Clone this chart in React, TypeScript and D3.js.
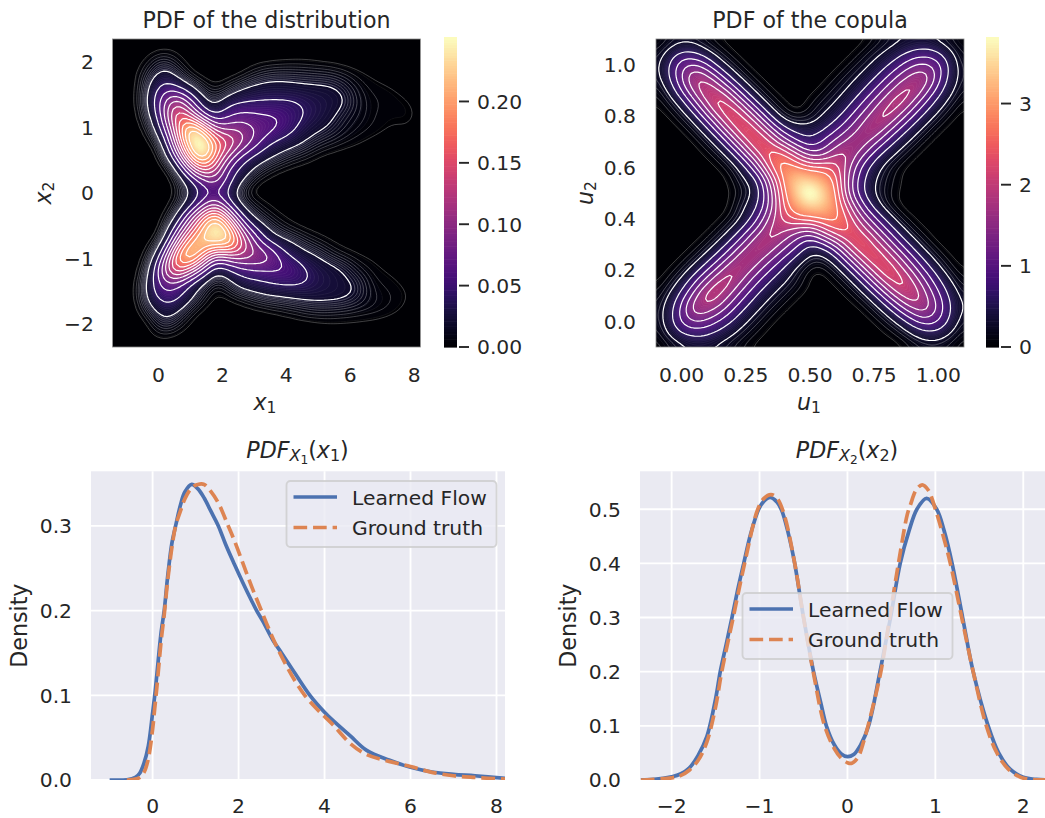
import React from 'react';
import * as d3 from 'd3';

// density of the distribution, thousandths (25 x 25, top row first)
const distRows = [
  [0,0,0,0,0,0,0,0,0,0,0,0,0,0,0,0,0,0,0,0,0,0,0,0,0],
  [0,0,0,.5,2,1,0,0,0,0,0,0,0,0,0,0,0,0,0,0,0,0,0,0,0],
  [0,0,.2,6,16,6,.5,0,0,0,0,.8,1.9,2.4,3,3,2.2,1.5,.8,.2,0,0,0,0,0],
  [0,0,1.5,15,32,20,5,1,0,.5,2,9,14,16,15,14,13,12,8,4,2,1,.4,0,0],
  [0,0,.8,24,58,50,30,10,3,9,21,27,30,30,28,26,25,24,18,8,4,3,2,.8,0],
  [0,0,1,28,78,130,75,30,14,35,40,42,43,43,44,38,32,27,22,10,5,4,3,2.5,.5],
  [0,0,.6,18,70,170,135,65,37,58,68,66,62,61,48,40,31,23,13,8,5,3,2.5,3,1],
  [0,0,.1,8,50,140,255,190,100,95,98,80,72,58,45,30,23,17,10,6,4,2.5,1.5,1.8,.3],
  [0,0,0,1.5,20,115,235,275,180,150,112,78,47,35,28,19,11,7,4,2.5,1,.3,0,0,0],
  [0,0,0,.2,7,65,190,265,175,110,60,40,28,18,10,6,2,.8,.2,0,0,0,0,0,0],
  [0,0,0,0,.5,16,90,175,130,60,38,21,8,3,1,.3,0,0,0,0,0,0,0,0,0],
  [0,0,0,0,0,4,30,65,95,50,23,4,1,.2,0,0,0,0,0,0,0,0,0,0,0],
  [0,0,0,0,0,1.5,19,46,60,32,6,.5,0,0,0,0,0,0,0,0,0,0,0,0,0],
  [0,0,0,0,0,6,30,68,110,55,20,7,2.5,.5,0,0,0,0,0,0,0,0,0,0,0],
  [0,0,0,0,1.5,20,85,160,240,135,50,19,8,3,1,.2,0,0,0,0,0,0,0,0,0],
  [0,0,0,0,3,60,140,212,262,232,110,55,24,11,5,2,1,.3,0,0,0,0,0,0,0],
  [0,0,0,1,22,110,210,232,208,225,155,90,50,32,23,12,6,2.5,1,.3,0,0,0,0,0],
  [0,0,0,8,60,185,242,160,75,95,110,105,100,60,38,28,21,10,5,2.5,1.5,.5,0,0,0],
  [0,0,0,19,100,175,120,65,22,35,50,56,58,64,60,42,32,27,20,8,4,2,.8,0,0],
  [0,0,.2,30,75,70,40,20,5,12,30,35,40,43,44,42,33,27,23,19,6,4,2.5,.8,0],
  [0,0,1,30,55,50,28,9,1,2.5,6,12,18,20,23,25,26,26,24,18,8,5,4,2,.3],
  [0,0,.2,15,32,25,8,1.5,0,0,.3,.8,2,4,6,9,11,10,9,7,6,5,3,1,0],
  [0,0,0,2,19,10,1.5,0,0,0,0,0,0,0,.3,.7,1.2,2,1.8,1.7,1.2,.6,0,0,0],
  [0,0,0,1,3,.8,0,0,0,0,0,0,0,0,0,0,0,0,0,0,0,0,0,0,0],
  [0,0,0,0,0,0,0,0,0,0,0,0,0,0,0,0,0,0,0,0,0,0,0,0,0],
];

// density of the copula (25 x 25, top row first)
const copulaRows = [
  [.03,.12,.18,.14,.07,.02,0,0,0,0,0,0,0,0,0,0,0,.05,.17,.25,.28,.29,.2,.11,.05],
  [.12,.35,.58,.58,.3,.11,.02,0,0,0,0,0,0,0,0,0,.06,.2,.33,.46,.63,.71,.58,.3,.09],
  [.18,.58,1.15,1.2,.92,.4,.13,.02,0,0,0,0,0,0,0,.06,.2,.36,.53,.83,1.16,1.26,1.05,.47,.13],
  [.14,.58,1.2,2,1.6,1.07,.45,.14,.02,0,0,0,0,0,.06,.2,.36,.54,.89,1.33,1.67,1.85,1,.45,.16],
  [.07,.3,.92,1.6,2.25,1.8,1.18,.48,.15,.02,0,0,0,.05,.19,.34,.53,.89,1.36,1.78,2.02,1.33,.73,.34,.1],
  [.02,.11,.4,1.07,1.8,2.45,1.92,1.22,.5,.15,.03,0,.05,.18,.32,.5,.86,1.33,1.78,2.08,1.43,.84,.44,.17,.03],
  [0,.02,.13,.45,1.18,1.92,2.55,1.98,1.25,.5,.15,.04,.13,.33,.47,.81,1.26,1.71,2.05,1.43,.86,.48,.2,.04,0],
  [0,0,.02,.14,.48,1.22,1.98,2.6,2.02,1.27,.62,.46,.42,.51,.82,1.19,1.62,1.98,1.37,.84,.48,.2,.04,0,0],
  [0,0,0,.02,.15,.5,1.25,2.02,2.62,2.08,1.4,.85,.65,.95,1.3,1.64,1.85,1.3,.8,.46,.2,.04,0,0,0],
  [0,0,0,0,.03,.15,.5,1.27,2.08,2.65,2.5,1.9,1.3,1.3,1.85,1.9,1.31,.75,.43,.19,.04,0,0,0,0],
  [0,0,0,0,0,.03,.15,.52,1.33,2.45,3,2.7,2.5,2.5,2.3,1.6,.82,.44,.18,.04,0,0,0,0,0],
  [0,0,0,0,0,0,.06,.3,.56,1.7,2.8,3.6,3.3,3.1,2.6,1.4,.7,.32,.13,.03,0,0,0,0,0],
  [0,0,0,0,0,0,.03,.15,.5,1.4,2.65,3.4,4.35,3.45,2.75,1.4,.65,.28,.1,.02,0,0,0,0,0],
  [0,0,0,0,0,0,.05,.33,.6,1.35,2.5,3.1,3.4,3.45,2.8,1.95,1.03,.49,.12,.02,0,0,0,0,0],
  [0,0,0,0,0,.02,.11,.43,.86,1.75,2.2,2.55,2.6,2.7,2.9,2.35,1.58,.96,.5,.12,.03,0,0,0,0],
  [0,0,0,0,.02,.11,.41,.82,1.4,2,1.8,1.5,1.3,1.9,2.35,2.55,2.14,1.55,.94,.49,.12,.03,0,0,0],
  [0,0,0,.02,.11,.41,.8,1.35,2,1.75,1.36,.97,.55,.75,1.28,2.02,2.6,2.1,1.52,.92,.48,.12,.02,0,0],
  [0,0,.02,.12,.43,.82,1.35,2,1.68,1.29,.88,.54,.22,.2,.5,1.25,1.98,2.55,2.07,1.5,.9,.46,.12,.02,0],
  [0,.02,.12,.45,.86,1.4,2.02,1.68,1.26,.84,.51,.2,.03,.03,.15,.49,1.22,1.94,2.52,2.01,1.43,.84,.41,.09,.02],
  [.01,.1,.41,.88,1.46,2.1,1.76,1.29,.84,.5,.3,.13,.02,0,.03,.15,.49,1.21,1.9,2.4,1.87,1.27,.7,.32,.06],
  [.06,.3,.71,1.33,2.12,1.83,1.36,.88,.51,.3,.13,.03,0,0,0,.03,.15,.47,1.15,1.76,2.2,1.57,.99,.49,.19],
  [.13,.43,.97,1.85,1.67,1.39,.91,.54,.31,.13,.03,0,0,0,0,0,.02,.14,.44,1.03,1.48,1.8,1.1,.59,.21],
  [.13,.43,1,1.22,1.12,.83,.55,.32,.14,.03,0,0,0,0,0,0,0,.02,.12,.37,.8,1.04,.95,.47,.16],
  [.07,.3,.54,.68,.61,.45,.3,.14,.04,0,0,0,0,0,0,0,0,0,.02,.08,.26,.48,.44,.25,.08],
  [.02,.09,.2,.27,.27,.22,.12,.04,0,0,0,0,0,0,0,0,0,0,0,0,.06,.11,.13,.08,.02],
];

const x1Learned = [-1,-.6,-.4,-.3,-.2,-.1,0,.05,.1,.2,.27,.35,.45,.535,.65,.75,.91,1.05,1.2,1.35,1.53,1.7,1.9,2.1,2.3,2.42,2.57,2.8,3,3.3,3.66,4,4.2,4.6,4.98,5.5,6,6.5,7,7.5,8.2];
const y1Learned = [0,.0003,.003,.008,.02,.04,.079,.1,.125,.175,.2,.24,.28,.3,.325,.34,.349,.344,.333,.318,.3,.278,.255,.233,.212,.2,.187,.165,.15,.127,.1,.08,.07,.052,.035,.0235,.015,.0095,.0067,.005,.002];
const x1Truth = [-.6,-.4,-.3,-.2,-.1,0,.05,.1,.2,.27,.35,.45,.535,.65,.75,.91,1.05,1.2,1.35,1.53,1.76,1.9,2.1,2.3,2.53,2.8,3,3.3,3.54,3.8,4,4.2,4.6,4.98,5.5,6,6.5,7,7.5,8.2];
const y1Truth = [0,.001,.003,.009,.025,.06,.085,.11,.165,.195,.235,.275,.3,.318,.332,.345,.349,.349,.341,.327,.3,.283,.256,.229,.2,.167,.146,.118,.1,.085,.075,.065,.043,.03,.022,.016,.009,.005,.003,.001];

const x2Learned = [-2.35,-2.2,-2,-1.9,-1.8,-1.7,-1.6,-1.5,-1.447,-1.38,-1.314,-1.25,-1.18,-1.1,-1.01,-.95,-.88,-.8,-.746,-.68,-.606,-.51,-.45,-.386,-.3,-.24,-.15,-.07,0,.07,.15,.24,.37,.49,.6,.7,.79,.9,1.015,1.1,1.19,1.31,1.43,1.6,1.72,1.85,2,2.15,2.35];
const y2Learned = [.0005,.001,.006,.011,.022,.045,.08,.15,.2,.25,.3,.35,.4,.455,.5,.515,.522,.513,.497,.46,.405,.31,.255,.2,.14,.1,.065,.048,.043,.047,.065,.1,.2,.3,.4,.46,.5,.52,.5,.46,.4,.3,.2,.1,.05,.02,.005,.001,0];
const x2Truth = [-2.35,-2,-1.9,-1.8,-1.7,-1.6,-1.5,-1.43,-1.3,-1.17,-1.02,-.95,-.87,-.8,-.72,-.6,-.5,-.39,-.26,-.15,-.07,0,.05,.12,.2,.25,.38,.48,.58,.68,.72,.78,.85,.92,1,1.09,1.17,1.3,1.43,1.58,1.7,1.83,1.97,2.1,2.35];
const y2Truth = [0,.004,.008,.018,.036,.07,.135,.2,.3,.4,.5,.52,.527,.52,.49,.4,.3,.2,.1,.058,.04,.032,.031,.042,.08,.11,.2,.3,.4,.49,.51,.535,.545,.535,.5,.45,.4,.3,.2,.1,.05,.02,.005,.001,0];

const distXTicks = [0, 2, 4, 6, 8];
const distYTicks = [-2, -1, 0, 1, 2];
const distBarTicks = [0, .05, .1, .15, .2];
const copulaTicks = [0, .2, .4, .6, .8, 1];
const copulaXTicks = [0, .25, .5, .75, 1];
const copulaBarTicks = [0, 1, 2, 3];
const lowerLeftX = [0, 2, 4, 6, 8];
const lowerLeftY = [0, .1, .2, .3];
const lowerRightX = [-2, -1, 0, 1, 2];
const lowerRightY = [0, .1, .2, .3, .4, .5];

const FONT = "'DejaVu Sans', sans-serif";
const INK = '#262626';
const TICK = 20.3;
const HEAD = 22.15;
const BLUE = '#4c72b0';
const ORANGE = '#dd8452';
const minus = (s: string) => s.replace('-', '\u2212');

const UP = 4;
// smooth resample of a coarse grid so contour lines don't show the grid cells
function resample(rows: number[][]) {
  const n = rows.length, m = (n - 1) * UP + 1;
  const cr = (a: number, b: number, c: number, d: number, t: number) =>
    b + .5 * t * (c - a + t * (2 * a - 5 * b + 4 * c - d + t * (3 * (b - c) + d - a)));
  const at = (r: number, c: number) => rows[Math.max(0, Math.min(n - 1, r))][Math.max(0, Math.min(n - 1, c))];
  const out = new Array(m * m);
  for (let j = 0; j < m; j++) {
    const rj = Math.min(Math.floor(j / UP), n - 2), tj = j / UP - rj;
    for (let i = 0; i < m; i++) {
      const ri = Math.min(Math.floor(i / UP), n - 2), ti = i / UP - ri;
      const col = [-1, 0, 1, 2].map(k =>
        cr(at(rj + k, ri - 1), at(rj + k, ri), at(rj + k, ri + 1), at(rj + k, ri + 2), ti));
      out[j * m + i] = Math.max(0, cr(col[0], col[1], col[2], col[3], tj));
    }
  }
  d3.blur2({ data: out, width: m, height: m }, 1.5);
  return { values: out, m };
}

const Mono = ({ x, y, anchor = 'middle', size = TICK, children }: any) => (
  <text x={x} y={y} textAnchor={anchor} fontSize={size} fontFamily={FONT} fill={INK}>{children}</text>
);

function Field({ rows, scale, left, top, size, maxV, fine, bold, faint, id }: any) {
  const { values, m } = React.useMemo(() => resample(rows.map((r: number[]) => r.map((v: number) => v * scale))), [rows, scale]);
  const px = d3.scaleLinear().domain([.5, m - .5]).range([left, left + size]);
  const py = d3.scaleLinear().domain([.5, m - .5]).range([top, top + size]);
  const path = d3.geoPath(d3.geoTransform({
    point(x: number, y: number) { (this as any).stream.point(px(x), py(y)); },
  }));
  const gen = d3.contours().size([m, m]);
  const step = maxV / fine;
  const fills = d3.range(1, fine).map(k => k * step);
  const color = (v: number) => d3.interpolateMagma(Math.min(1, v / maxV));
  return (
    <g clipPath={`url(#${id})`}>
      <clipPath id={id}><rect x={left} y={top} width={size} height={size} /></clipPath>
      <rect x={left} y={top} width={size} height={size} fill={color(0)} />
      {fills.map(t => (
        <path key={t} d={path(gen.contour(values, t)) || ''} fill={color(t + step / 2)} stroke="#fff" strokeOpacity={.22} strokeWidth={.3} />
      ))}
      {faint.map((t: number) => (
        <path key={t} d={path(gen.contour(values, t)) || ''} fill="none" stroke="#fff" strokeOpacity={.5} strokeWidth={.5} />
      ))}
      {bold.map((t: number) => (
        <path key={t} d={path(gen.contour(values, t)) || ''} fill="none" stroke="#fff" strokeWidth={1.2} />
      ))}
    </g>
  );
}

function Bar({ left, width, top, bottom, maxV, ticks, fmt }: any) {
  const y = d3.scaleLinear().domain([0, maxV]).range([bottom, top]);
  const bands = d3.range(0, 120).map(k => (k * maxV) / 120);
  return (
    <g>
      {bands.map(v => (
        <rect key={v} x={left} width={width} y={y(v + maxV / 120)} height={y(v) - y(v + maxV / 120) + .6}
          fill={d3.interpolateMagma((v + maxV / 240) / maxV)} />
      ))}
      {ticks.map((t: number) => (
        <g key={t}>
          <line x1={left + width + 2} x2={left + width + 12} y1={y(t)} y2={y(t)} stroke={INK} strokeWidth={1.9} />
          <Mono x={left + width + 20} y={y(t) + 7.4} anchor="start">{fmt(t)}</Mono>
        </g>
      ))}
    </g>
  );
}

// x_1 style label set as mathtext
const MathVar = ({ name, sub, x, y, rotate }: any) => (
  <text transform={`translate(${x},${y})${rotate ? ' rotate(-90)' : ''}`} textAnchor="middle" fontFamily={FONT} fontSize={HEAD} fill={INK}>
    <tspan fontStyle="italic">{name}</tspan>
    <tspan fontSize={HEAD * .7} dy={3.3}>{sub}</tspan>
  </text>
);

const PdfTitle = ({ sub, x, y }: any) => (
  <text x={x} y={y} textAnchor="middle" fontFamily={FONT} fontSize={HEAD} fill={INK}>
    <tspan fontStyle="italic">PDF</tspan>
    <tspan fontStyle="italic" fontSize={HEAD * .72} dy={3.3}>X</tspan>
    <tspan fontSize={HEAD * .55} dy={2.4}>{sub}</tspan>
    <tspan dy={-5.7}>(</tspan>
    <tspan fontStyle="italic">x</tspan>
    <tspan fontSize={HEAD * .72} dy={3.3}>{sub}</tspan>
    <tspan dy={-3.3}>)</tspan>
  </text>
);

function Kde({ id, left, right, top, bottom, xDomain, yDomain, xTicks, yTicks, series, legend, labelEnd, densityX, sub, titleX }: any) {
  const x = d3.scaleLinear().domain(xDomain).range([left, right]);
  const y = d3.scaleLinear().domain(yDomain).range([bottom, top]);
  const line = (xs: number[], ys: number[]) =>
    d3.line<number>().x(d => x(d)).y((_, i) => y(ys[i])).curve(d3.curveCatmullRom.alpha(.5))(xs) || '';
  return (
    <g>
      <PdfTitle sub={sub} x={titleX} y={458} />
      <rect x={left} y={top} width={right - left} height={bottom - top} fill="#eaeaf2" />
      {xTicks.map((t: number) => (
        <g key={t}>
          <line x1={x(t)} x2={x(t)} y1={top} y2={bottom} stroke="#fff" strokeWidth={1.85} />
          <Mono x={x(t)} y={813}>{minus(String(t))}</Mono>
        </g>
      ))}
      {yTicks.map((t: number) => (
        <g key={t}>
          <line x1={left} x2={right} y1={y(t)} y2={y(t)} stroke="#fff" strokeWidth={1.85} />
          <Mono x={labelEnd} y={y(t) + 7.4} anchor="end">{t.toFixed(1)}</Mono>
        </g>
      ))}
      <clipPath id={id}><rect x={left} y={top} width={right - left} height={bottom - top} /></clipPath>
      <g clipPath={`url(#${id})`} fill="none" strokeWidth={3.7}>
        <path d={line(series[0], series[1])} stroke={BLUE} />
        <path d={line(series[2], series[3])} stroke={ORANGE} strokeDasharray="13.65 5.9" />
      </g>
      <text transform={`translate(${densityX},${(top + bottom) / 2}) rotate(-90)`} textAnchor="middle" fontFamily={FONT} fontSize={HEAD} fill={INK}>Density</text>
      <g transform={`translate(${legend[0]},${legend[1]})`}>
        <rect x={.5} y={.5} width={210} height={66} rx={4} fill="#eaeaf2" fillOpacity={.8} stroke="#cccccc" strokeOpacity={.8} strokeWidth={1.85} />
        <line x1={7.5} x2={51} y1={16.5} y2={16.5} stroke={BLUE} strokeWidth={3.7} />
        <line x1={7.5} x2={51} y1={47} y2={47} stroke={ORANGE} strokeWidth={3.7} strokeDasharray="13.65 5.9" />
        <Mono x={66} y={24} anchor="start">Learned Flow</Mono>
        <Mono x={66} y={54.5} anchor="start">Ground truth</Mono>
      </g>
    </g>
  );
}

export default function App() {
  const dx = d3.scaleLinear().domain([-1.44, 8.2]).range([112.5, 420.5]);
  const dy = d3.scaleLinear().domain([-2.35, 2.35]).range([347, 39]);
  const ux = d3.scaleLinear().domain([-.1, 1.1]).range([656, 964]);
  const uy = d3.scaleLinear().domain([-.1, 1.1]).range([347, 39]);
  return (
    <svg width={1045} height={818} style={{ position: 'absolute', left: 0, top: 0, display: 'block', background: '#fff' }}>
      <Mono x={266.5} y={28} size={HEAD}>PDF of the distribution</Mono>
      <Field id="distClip" rows={distRows} scale={.001} left={112.5} top={39} size={308} maxV={.2505} fine={100}
        bold={d3.range(1, 12).map(k => k * .02)} faint={d3.range(1, 10).map(k => k * .002)} />
      <rect x={112.5} y={39} width={308} height={308} fill="none" stroke="#888" strokeWidth={.8} />
      {distXTicks.map(t => <Mono key={t} x={dx(t)} y={382}>{t}</Mono>)}
      {distYTicks.map(t => <Mono key={t} x={94} y={dy(t) + 7.4} anchor="end">{minus(String(t))}</Mono>)}
      <MathVar name="x" sub="1" x={265} y={410} />
      <MathVar name="x" sub="2" x={51} y={193} rotate />
      <Bar left={444} width={13} top={37} bottom={347} maxV={.2525} ticks={distBarTicks} fmt={(t: number) => t.toFixed(2)} />

      <Mono x={810} y={28} size={HEAD}>PDF of the copula</Mono>
      <Field id="copulaClip" rows={copulaRows} scale={1} left={656} top={39} size={308} maxV={3.82} fine={100}
        bold={d3.range(1, 10).map(k => k * .3)} faint={[.03, .08, .15, .22]} />
      <rect x={656} y={39} width={308} height={308} fill="none" stroke="#888" strokeWidth={.8} />
      {copulaXTicks.map(t => <Mono key={t} x={ux(t)} y={382}>{t.toFixed(2)}</Mono>)}
      {copulaTicks.map(t => <Mono key={t} x={636} y={uy(t) + 7.4} anchor="end">{t.toFixed(1)}</Mono>)}
      <MathVar name="u" sub="1" x={809} y={410} />
      <MathVar name="u" sub="2" x={593} y={193} rotate />
      <Bar left={986} width={13} top={37} bottom={347} maxV={3.82} ticks={copulaBarTicks} fmt={(t: number) => String(t)} />

      <Kde id="kdeOne" left={91} right={505} top={471.3} bottom={780} xDomain={[-1.433, 8.198]} yDomain={[0, .3645]}
        xTicks={lowerLeftX} yTicks={lowerLeftY} series={[x1Learned, y1Learned, x1Truth, y1Truth]}
        legend={[286, 480.5]} labelEnd={72} densityX={27} sub="1" titleX={297.5} />
      <Kde id="kdeTwo" left={640} right={1045} top={471.3} bottom={780} xDomain={[-2.36, 2.247]} yDomain={[0, .57]}
        xTicks={lowerRightX} yTicks={lowerRightY} series={[x2Learned, y2Learned, x2Truth, y2Truth]}
        legend={[742, 592.5]} labelEnd={621} densityX={576} sub="2" titleX={847} />
    </svg>
  );
}
